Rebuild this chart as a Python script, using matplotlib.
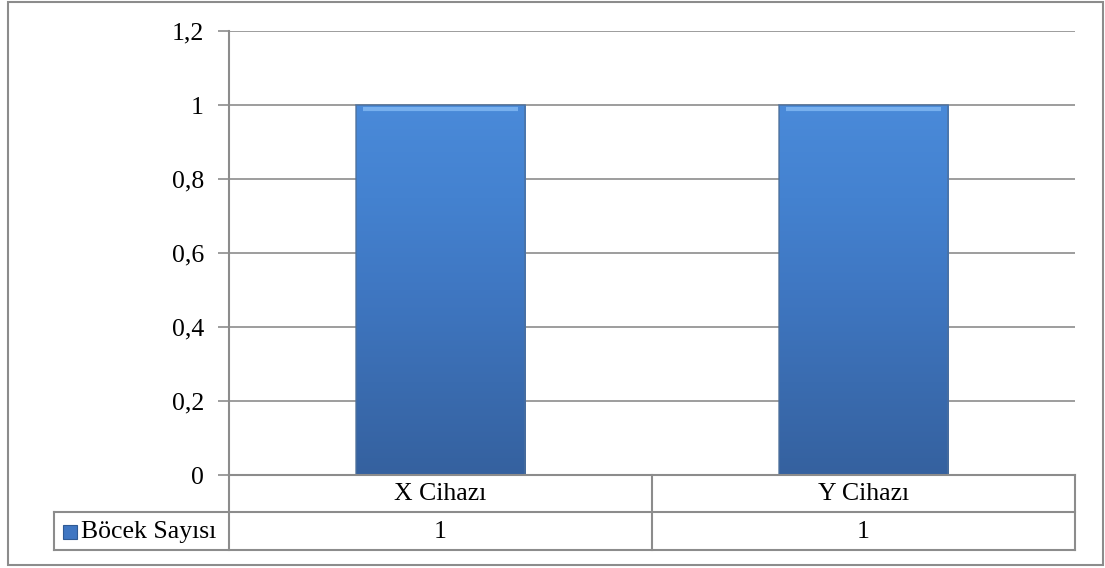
"""Bar chart with data table: Böcek Sayısı per device."""

import matplotlib

matplotlib.use("Agg")
import matplotlib.pyplot as plt
import numpy as np
from matplotlib.colors import LinearSegmentedColormap
from matplotlib.patches import Rectangle

categories = ["X Cihazı", "Y Cihazı"]
series_name = "Böcek Sayısı"
values = [1, 1]
yticks = [0, 0.2, 0.4, 0.6, 0.8, 1.0, 1.2]
ytick_labels = ["0", "0,2", "0,4", "0,6", "0,8", "1", "1,2"]

W, H = 1105, 568
GRID = "#8c8c8c"
FS = 18.5
plt.rcParams["font.family"] = ["Liberation Serif", "DejaVu Serif"]

fig = plt.figure(figsize=(W / 100, H / 100), dpi=100)


def fx(px):
    return px / W


def fy(py):
    return 1 - py / H


# outer chart border
fig.patches.append(Rectangle((fx(8), fy(565)), fx(1103) - fx(8), fy(2) - fy(565),
                             transform=fig.transFigure, fill=False,
                             edgecolor=GRID, linewidth=1.5))

left, right, top, bottom = 229, 1075, 31, 475
ax = fig.add_axes([fx(left), fy(bottom), fx(right) - fx(left), fy(top) - fy(bottom)])
x = np.arange(len(categories))
ax.set_xlim(-0.5, len(categories) - 0.5)
ax.set_ylim(0, 1.2)
ax.set_yticks(yticks)
ax.set_yticklabels(ytick_labels, fontsize=FS)
ax.set_xticks([])
ax.tick_params(axis="y", length=8, color=GRID, width=1.2, pad=10)
for side in ("top", "right", "bottom"):
    ax.spines[side].set_visible(False)
ax.spines["left"].set_color(GRID)
ax.spines["left"].set_linewidth(1.5)
ax.grid(axis="y", color=GRID, linewidth=1.2)
ax.set_axisbelow(True)

bars = ax.bar(x, values, width=0.4, color="#3f76c2", zorder=2)
cmap = LinearSegmentedColormap.from_list(
    "bar", ["#35619f", "#3a6cb0", "#3f77c2", "#4482d0", "#4a8ad9"])
for b in bars:
    x0, y0 = b.get_x(), b.get_y()
    w, h = b.get_width(), b.get_height()
    grad = np.linspace(0, 1, 256).reshape(-1, 1)
    grad = np.hstack([grad] * 4)
    img = ax.imshow(grad, cmap=cmap, aspect="auto", origin="lower",
                    extent=(x0, x0 + w, y0, y0 + h), zorder=3, interpolation="bicubic")
    img.set_clip_path(b)
    ax.add_patch(Rectangle((x0, y0), w, h, fill=False, edgecolor="#4d6f9a",
                           linewidth=1.2, alpha=0.8, zorder=4))
    # light bevel along the top edge
    ax.plot([x0 + w * 0.04, x0 + w * 0.96], [y0 + h - 0.01, y0 + h - 0.01],
            color="#78b0ee", linewidth=3, solid_capstyle="butt", zorder=5)

# data table below the plot
tab = fig.add_axes([0, 0, 1, 1], facecolor="none")
tab.set_xlim(0, W)
tab.set_ylim(H, 0)
tab.axis("off")
row1, row2 = 512, 550
lkw = dict(color=GRID, linewidth=1.5)
tab.plot([left, right], [bottom, bottom], **lkw)
tab.plot([54, right], [row1, row1], **lkw)
tab.plot([54, right], [row2, row2], **lkw)
tab.plot([54, 54], [row1, row2], **lkw)
tab.plot([left, left], [bottom, row2], **lkw)
tab.plot([right, right], [bottom, row2], **lkw)
cell_w = (right - left) / len(categories)
for i in range(1, len(categories)):
    xv = left + i * cell_w
    tab.plot([xv, xv], [bottom, row2], **lkw)
for i, (cat, val) in enumerate(zip(categories, values)):
    cx = left + (i + 0.5) * cell_w
    tab.text(cx, (bottom + row1) / 2 + 1, cat, ha="center", va="center", fontsize=FS)
    tab.text(cx, (row1 + row2) / 2 + 1, str(val), ha="center", va="center", fontsize=FS)

tab.add_patch(Rectangle((63, 525), 14, 14, facecolor="#3f76c2", edgecolor="#2f5a94",
                        linewidth=0.8))
tab.text(81, (row1 + row2) / 2 + 1, series_name, ha="left", va="center", fontsize=FS)

fig.savefig("out.png", dpi=100)
